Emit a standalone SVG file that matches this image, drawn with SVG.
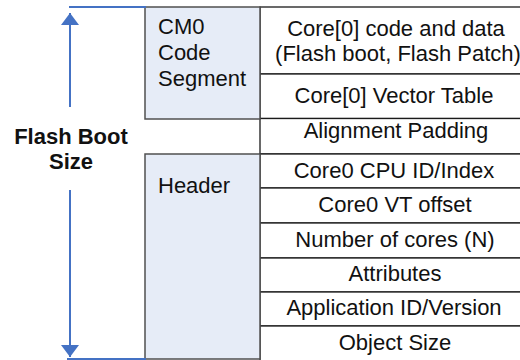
<svg xmlns="http://www.w3.org/2000/svg" width="520" height="360" viewBox="0 0 520 360">
<defs>
<style>
.box{fill:#E6ECF7;stroke:#505050;stroke-width:1.5}
.row{fill:#FFFFFF;stroke:#1A1A1A;stroke-width:1.3}
.t{font-family:"Liberation Sans",Arial,sans-serif;font-size:22px;fill:#111111}
.c{text-anchor:middle}
.b{font-weight:bold;text-anchor:middle}
.dim{stroke:#4472C4;stroke-width:2;fill:none}
</style>
<marker id="ah" viewBox="0 0 12 18" refX="12" refY="9" markerWidth="12" markerHeight="18" markerUnits="userSpaceOnUse" orient="auto">
<path d="M0,0 L12,9 L0,18 Z" fill="#4472C4"/>
</marker>
</defs>
<rect width="520" height="360" fill="#FFFFFF"/>
<g id="rows">
<g id="row-code"><rect class="row" x="260" y="7" width="280" height="67"/><text class="t c" x="396" y="36">Core[0] code and data</text><text class="t c" x="398" y="61">(Flash boot, Flash Patch)</text></g>
<g id="row-vt"><rect class="row" x="260" y="74" width="280" height="44.5"/><text class="t c" x="394" y="103">Core[0] Vector Table</text></g>
<g id="row-pad"><rect class="row" x="260" y="118.5" width="280" height="35.5"/><text class="t c" x="396" y="138">Alignment Padding</text></g>
<g id="row-cpu"><rect class="row" x="260" y="154" width="280" height="34"/><text class="t c" x="394" y="178">Core0 CPU ID/Index</text></g>
<g id="row-vto"><rect class="row" x="260" y="188" width="280" height="35"/><text class="t c" x="395" y="212">Core0 VT offset</text></g>
<g id="row-n"><rect class="row" x="260" y="223" width="280" height="35"/><text class="t c" x="395" y="247">Number of cores (N)</text></g>
<g id="row-attr"><rect class="row" x="260" y="258" width="280" height="34"/><text class="t c" x="395" y="281">Attributes</text></g>
<g id="row-app"><rect class="row" x="260" y="292" width="280" height="34"/><text class="t c" x="394" y="315">Application ID/Version</text></g>
<g id="row-size"><rect class="row" x="260" y="326" width="280" height="40"/><text class="t c" x="395" y="350">Object Size</text></g>
</g>
<g id="cm0">
<rect class="box" x="145" y="7" width="115" height="112"/>
<text class="t" x="158" y="34">CM0</text>
<text class="t" x="158" y="60">Code</text>
<text class="t" x="158" y="86">Segment</text>
</g>
<g id="header">
<rect class="box" x="145" y="154" width="115" height="205"/>
<text class="t" x="158" y="193">Header</text>
</g>
<g id="label">
<text class="t b" x="71" y="144">Flash Boot</text>
<text class="t b" x="71" y="169">Size</text>
</g>
<g id="connectors">
<line class="dim" x1="69" y1="7" x2="146" y2="7"/>
<line class="dim" x1="67" y1="359" x2="146" y2="359"/>
<line class="dim" x1="70" y1="107" x2="70" y2="13" marker-end="url(#ah)"/>
<line class="dim" x1="70" y1="190" x2="70" y2="357" marker-end="url(#ah)"/>
</g>
</svg>
